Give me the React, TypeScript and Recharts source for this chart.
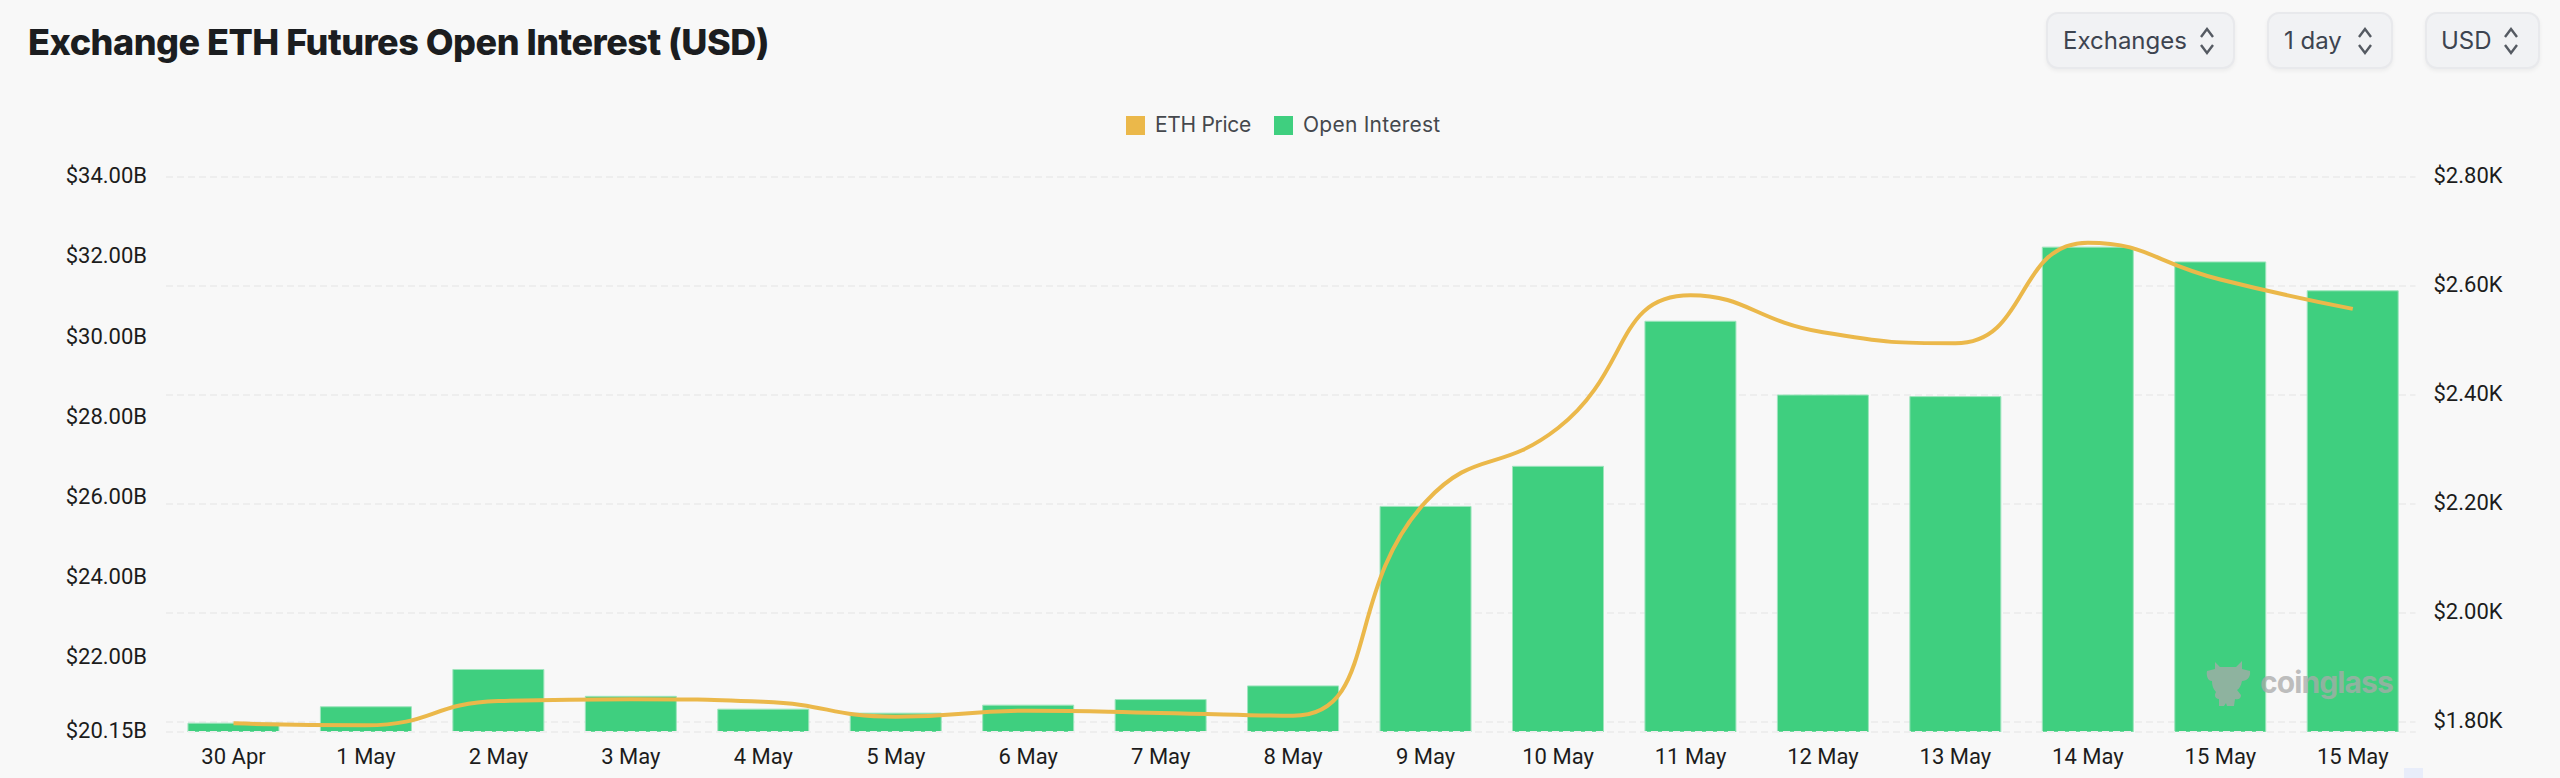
import React from "react";
import { ComposedChart, Bar, Line, XAxis, YAxis, CartesianGrid, ReferenceLine, Legend } from "recharts";

const categories = ["30 Apr","1 May","2 May","3 May","4 May","5 May","6 May","7 May","8 May","9 May","10 May","11 May","12 May","13 May","14 May","15 May","15 May"];
const openInterest = [20.37,20.78,21.71,21.04,20.72,20.62,20.82,20.96,21.30,25.78,26.78,30.40,28.56,28.52,32.25,31.88,31.16];
const ethPrice = [1.7976,1.794,1.8385,1.842,1.8373,1.8097,1.8207,1.8165,1.8115,2.204,2.3394,2.583,2.515,2.495,2.6795,2.612,2.558];
const leftTicks = [20.15,22,24,26,28,30,32,34];
const rightTicks = [1.8,2.0,2.2,2.4,2.6,2.8];
const selectors = ["Exchanges","1 day","USD"];

const data = categories.map((c, i) => ({ key: i, label: c, oi: openInterest[i], price: ethPrice[i] }));

const BG = "#f8f8f8";
const GREEN = "#3fcf7f";
const GOLD = "#ebb84a";
const GRID = "#eeeeee";
const TICK_FONT = "Roboto, sans-serif";
const UI_FONT = "Inter, sans-serif";

// Smooth curve: tangent at each point parallel to prev->next, split by neighbouring segment length.
function smoothCurve(ctx: any) {
  let pts: [number, number][] = [];
  const s = 0.5;
  return {
    areaStart() {}, areaEnd() {},
    lineStart() { pts = []; },
    point(x: number, y: number) { pts.push([+x, +y]); },
    lineEnd() {
      if (!pts.length) return;
      ctx.moveTo(pts[0][0], pts[0][1]);
      let cp0: [number, number] = pts[0];
      for (let i = 1; i < pts.length; i++) {
        const [x, y] = pts[i];
        const prev = pts[i - 1];
        const next = pts[i + 1];
        if (!next) { ctx.bezierCurveTo(cp0[0], cp0[1], x, y, x, y); break; }
        const dx = next[0] - prev[0], dy = next[1] - prev[1];
        const lp = Math.hypot(x - prev[0], y - prev[1]);
        const ln = Math.hypot(next[0] - x, next[1] - y);
        const r = ln / (ln + lp);
        let nx = x + dx * s * r, ny = y + dy * s * r;
        let cx = x - dx * s * (1 - r), cy = y - dy * s * (1 - r);
        const clamp = (v: number, a: number, b: number) => Math.min(Math.max(a, b), Math.max(Math.min(a, b), v));
        ny = clamp(ny, y, next[1]);
        const k = ny - y;
        cy = y - (ln ? k * lp / ln : 0);
        cy = clamp(cy, y, prev[1]);
        const k2 = y - cy;
        ny = y + (lp ? k2 * ln / lp : 0);
        nx = clamp(nx, x, next[0]);
        cx = clamp(cx, x, prev[0]);
        ctx.bezierCurveTo(cp0[0], cp0[1], cx, cy, x, y);
        cp0 = [nx, ny];
      }
    },
  };
}

const legendItems = [
  { name: "ETH Price", color: GOLD, left: 1126, textLeft: 1155, spacing: -0.3 },
  { name: "Open Interest", color: GREEN, left: 1274, textLeft: 1303, spacing: 0.25 },
];

function ChartLegend() {
  return (
    <div style={{ position: "absolute", left: 0, top: 0, width: 2560, height: 150 }}>
      {legendItems.map((it) => (
        <React.Fragment key={it.name}>
          <div style={{ position: "absolute", left: it.left, top: 116, width: 19, height: 19, background: it.color }} />
          <div style={{ position: "absolute", left: it.textLeft, top: 111, height: 28, lineHeight: "28px", fontFamily: UI_FONT, fontSize: 21, letterSpacing: it.spacing, color: "#45484d", whiteSpace: "nowrap" }}>{it.name}</div>
        </React.Fragment>
      ))}
    </div>
  );
}

const btnBoxes = [
  { left: 2046, width: 189, text: 2063, chev: 2207 },
  { left: 2267, width: 126, text: 2284, chev: 2365 },
  { left: 2425, width: 115, text: 2441, chev: 2511 },
];

function Selector({ label, box }: { label: string; box: typeof btnBoxes[number] }) {
  return (
    <>
      <div style={{ position: "absolute", left: box.left, top: 12, width: box.width, height: 57, boxSizing: "border-box", background: "#f1f2f4", border: "2px solid #e8e9ec", borderRadius: 12, boxShadow: "0 2px 4px rgba(0,0,0,0.05)" }} />
      <div style={{ position: "absolute", left: box.text, top: 22, height: 38, lineHeight: "38px", fontFamily: UI_FONT, fontSize: 24, color: "#3d4450", whiteSpace: "nowrap" }}>{label}</div>
      <svg style={{ position: "absolute", left: box.chev - 8, top: 26 }} width={16} height={30}>
        <path d="M2 11 L8 3 L14 11" fill="none" stroke="#555a62" strokeWidth={2.4} />
        <path d="M2 19 L8 27 L14 19" fill="none" stroke="#555a62" strokeWidth={2.4} />
      </svg>
    </>
  );
}

function Watermark() {
  return (
    <>
      <svg style={{ position: "absolute", left: 2206, top: 658 }} width={46} height={50}>
        <g fill="rgb(170,170,170)" fillOpacity={0.75}>
          <path d="M9 4 L14 9 L30 9 L36 3 L36 11 L44 13 C45 19 41 23 36 23 C35 28 33 31 31 32 L35 37 C35 41 32 42 29 41 L28 48 L21 48 L20 45 L18 48 L13 48 L13 41 C9 41 8 37 10 34 C7 31 6 27 6 23 C2 23 0 18 1 13 L9 11 Z" />
        </g>
      </svg>
      <div style={{ position: "absolute", left: 2260, top: 662, height: 40, lineHeight: "40px", fontFamily: UI_FONT, fontWeight: 700, fontSize: 30, letterSpacing: -0.9, color: "rgba(170,170,170,0.75)", whiteSpace: "nowrap" }}>coinglass</div>
    </>
  );
}

const fmtLeft = (v: number) => `$${v.toFixed(2)}B`;
const fmtRight = (v: number) => `$${v.toFixed(2)}K`;
const tickStyle = { fontFamily: TICK_FONT, fontSize: 22, fill: "#1c1c1c" };
const yTickStyle = { ...tickStyle, dy: -1.5 };

export default function App() {
  return (
    <div style={{ position: "absolute", left: 0, top: 0, width: 2560, height: 778, background: BG, overflow: "hidden" }}>
      <div style={{ position: "absolute", left: 28, top: 18, height: 48, lineHeight: "48px", fontFamily: UI_FONT, fontWeight: 800, fontSize: 36, letterSpacing: -0.5, color: "#1b1d20", whiteSpace: "nowrap" }}>
        Exchange ETH Futures Open Interest (USD)
      </div>
      {selectors.map((s, i) => <Selector key={s} label={s} box={btnBoxes[i]} />)}
      <div style={{ position: "absolute", left: 0, top: 0 }}>
        <ComposedChart width={2560} height={778} data={data} margin={{ top: 177, right: 0, bottom: 0, left: 0 }} barCategoryGap="15.6%">
          <CartesianGrid yAxisId="right" vertical={false} stroke={GRID} strokeWidth={2} strokeDasharray="7 4" />
          <ReferenceLine yAxisId="left" y={20.15} stroke={GRID} strokeWidth={2} strokeDasharray="7 4" />
          <XAxis dataKey="key" tickFormatter={(i: number) => categories[i]} height={46} axisLine={false} tickLine={false} tick={tickStyle} tickMargin={10} interval={0} padding={{ left: 1.3, right: -3.5 }} />
          <YAxis yAxisId="left" orientation="left" width={166} domain={[20.15, 34]} ticks={leftTicks} tickFormatter={fmtLeft} axisLine={false} tickLine={false} tick={yTickStyle} tickMargin={13} allowDataOverflow interval={0} />
          <YAxis yAxisId="right" orientation="right" width={144.5} domain={[1.7817, 2.8]} ticks={rightTicks} tickFormatter={fmtRight} axisLine={false} tickLine={false} tick={yTickStyle} tickMargin={12} allowDataOverflow interval={0} />
          <Legend content={() => <ChartLegend />} wrapperStyle={{ position: "absolute", left: 0, top: 0, width: 2560, height: 0 }} />
          <Bar yAxisId="left" dataKey="oi" name="Open Interest" fill={GREEN} stroke="#9ee5bd" strokeWidth={1} isAnimationActive={false} />
          <Line yAxisId="right" dataKey="price" name="ETH Price" type={smoothCurve as any} stroke={GOLD} strokeWidth={4} dot={false} activeDot={false} isAnimationActive={false} strokeLinecap="butt" />
        </ComposedChart>
      </div>
      <Watermark />
      <div style={{ position: "absolute", left: 2404, top: 768, width: 19, height: 10, background: "#e8edfa" }} />
    </div>
  );
}
